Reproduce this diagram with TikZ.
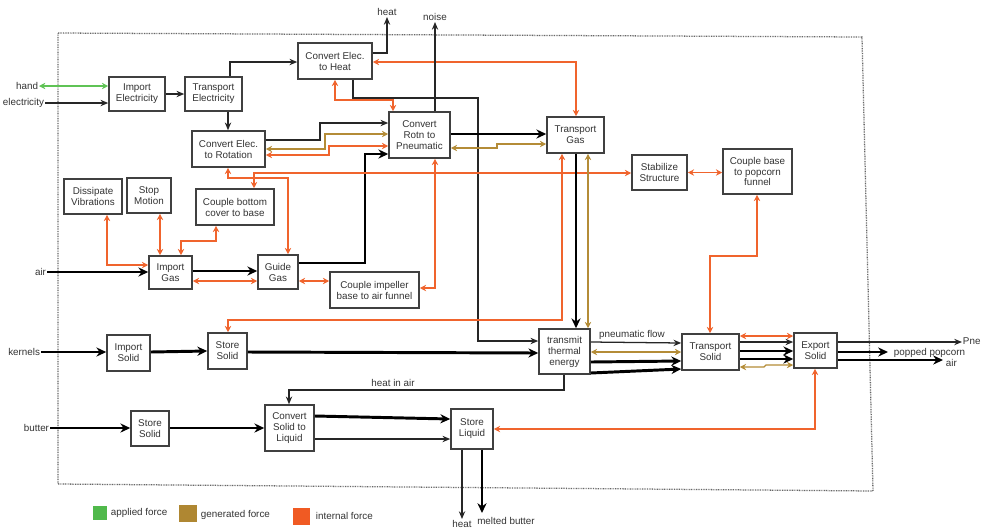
\documentclass[tikz,border=0pt]{standalone}
\usepackage{fontspec}
\setmainfont{Liberation Sans}
\usetikzlibrary{arrows.meta,calc}
\definecolor{cgreen}{RGB}{95,195,85}
\definecolor{cgold}{RGB}{180,140,55}
\definecolor{corange}{RGB}{240,100,45}
\definecolor{lgreen}{RGB}{80,185,75}
\definecolor{lgold}{RGB}{175,135,50}
\definecolor{lorange}{RGB}{240,90,35}
\tikzset{
  fnbox/.style={draw=black!75, line width=1.1pt, fill=white, align=center, inner sep=0pt,
    font=\fontsize{7}{7.8}\selectfont, text=black!80},
  lbl/.style={inner sep=0.5pt, font=\fontsize{7}{7.8}\selectfont, text=black!80},
  fl/.style={draw=black!85, line width=0.9pt, -{Stealth[length=5.5pt,width=4.5pt]}},
  tfl/.style={draw=black, line width=2.1pt, -{Stealth[length=7pt,width=6.5pt]}},
  ora/.style={draw=corange, line width=0.9pt, {Stealth[length=4.5pt,width=4.5pt]}-{Stealth[length=4.5pt,width=4.5pt]}},
  gol/.style={draw=cgold, line width=0.9pt, {Stealth[length=4.5pt,width=4.5pt]}-{Stealth[length=4.5pt,width=4.5pt]}},
  grn/.style={draw=cgreen, line width=0.9pt, {Stealth[length=4.5pt,width=4.5pt]}-{Stealth[length=4.5pt,width=4.5pt]}},
  frame/.style={draw=black!60, line width=0.9pt, dash pattern=on 0.6pt off 0.6pt},
}
\newcommand\fbx[6]{\node[fnbox, minimum width={(#4-#2)*0.025cm}, minimum height={(#5-#3)*0.025cm}] (#1) at ({(#2+#4)/2},{(#3+#5)/2}) {#6};}
\begin{document}
\begin{tikzpicture}[x=0.025cm,y=-0.025cm]
\useasboundingbox (0,0) rectangle (989,529);
\fill[white] (0,0) rectangle (989,529);
\draw[frame] (58,33) -- (862,37) -- (873,491) -- (58,484) -- cycle;

% boxes
\fbx{ie}{109}{77}{165}{111}{Import\\Electricity}
\fbx{te}{185}{77}{242}{111}{Transport\\Electricity}
\fbx{ch}{298}{43}{372}{79}{Convert Elec.\\to Heat}
\fbx{cr}{192}{131}{265}{167}{Convert Elec.\\to Rotation}
\fbx{cp}{389}{112}{450}{158}{Convert\\Rotn to\\Pneumatic}
\fbx{tg}{547}{117}{604}{153}{Transport\\Gas}
\fbx{ss}{632}{155}{687}{190}{Stabilize\\Structure}
\fbx{cf}{723}{149}{792}{194}{Couple base\\to popcorn\\funnel}
\fbx{dv}{64}{179}{122}{214}{Dissipate\\Vibrations}
\fbx{sm}{127}{178}{171}{213}{Stop\\Motion}
\fbx{cb}{196}{189}{274}{225}{Couple bottom\\cover to base}
\fbx{ig}{149}{256}{192}{289}{Import\\Gas}
\fbx{gg}{258}{255}{298}{289}{Guide\\Gas}
\fbx{ci}{330}{272}{419}{308}{Couple impeller\\base to air funnel}
\fbx{tt}{539}{329}{590}{374}{transmit\\thermal\\energy}
\fbx{ts}{682}{334}{739}{370}{Transport\\Solid}
\fbx{es}{794}{333}{837}{368}{Export\\Solid}
\fbx{is}{107}{335}{150}{371}{Import\\Solid}
\fbx{sk}{208}{333}{247}{369}{Store\\Solid}
\fbx{sb}{131}{411}{169}{446}{Store\\Solid}
\fbx{cs}{265}{405}{314}{451}{Convert\\Solid to\\Liquid}
\fbx{sl}{451}{409}{493}{449}{Store\\Liquid}

% labels
\node[lbl,anchor=east] (hand) at (39,86) {hand};
\node[lbl,anchor=east] (elec) at (45,103) {electricity};
\node[lbl,anchor=east] (air) at (47,272) {air};
\node[lbl,anchor=east] (kern) at (41,352) {kernels};
\node[lbl,anchor=east] (butt) at (50,428) {butter};
\node[lbl,anchor=south] (heat) at (387,17) {heat};
\node[lbl,anchor=south] (noise) at (435,22) {noise};
\node[lbl] (pnf) at (632,335) {pneumatic flow};
\node[lbl] (hia) at (393,383) {heat in air};
\node[lbl,anchor=west] (pne) at (962,341) {Pne};
\node[lbl,anchor=west] (pop) at (893,353) {popped popcorn};
\node[lbl,anchor=west] (airo) at (945,363) {air};
\node[lbl,anchor=north] (heatb) at (462,519) {heat};
\node[lbl] (melt) at (506,521) {melted butter};
\coordinate (popend) at (888,352);
\coordinate (airend) at (943,360);
\coordinate (meltend) at (482,513);

% connectors
\draw[grn] (hand.east) -- (ie.west |- hand.east);
\draw[fl] (elec.east) -- (ie.west |- elec.east);
\draw[fl] (ie.east |- 0,94) -- (te.west |- 0,94);
\draw[fl] (te.north -| 230,0) |- (ch.west |- 0,62);
\draw[fl] (te.south -| 228,0) -- (cr.north -| 228,0);
\draw[fl] (ch.east |- 0,53) -| (heat.south);
\draw[ora] (ch.east |- 0,62) -| (tg.north -| 576,0);
\draw[fl] (ch.south -| 353,0) |- (478,98) |- (tt.west |- 0,341);
\draw[ora] (ch.south -| 335,0) |- (393,100) -- (cp.north -| 393,0);
\draw[fl] (cp.north -| 435,0) -- (noise.south);
\draw[fl] (cr.east |- 0,140) -- (320,140) |- (cp.west |- 0,123);
\draw[gol] (cr.east |- 0,149) -- (325,149) |- (cp.west |- 0,134);
\draw[ora] (cr.east |- 0,155) -- (329,155) |- (cp.west |- 0,146);
\draw[tfl] (gg.east |- 0,263) -- (365,263) |- (cp.west |- 0,154);
\draw[tfl] (cp.east |- 0,134) -- (tg.west |- 0,134);
\draw[gol] (cp.east |- 0,148) -- (497,148) -- (497,144) -- (tg.west |- 0,144);
\draw[ora] (cp.south -| 435,0) |- (ci.east |- 0,288);
\draw[ora] (cr.south -| 228,0) |- (288,178) -- (gg.north -| 288,0);
\draw[ora] (cb.north -| 254,0) |- (ss.west |- 0,173);
\draw[tfl] (tg.south -| 576,0) -- (tt.north -| 576,0);
\draw[gol] (tg.south -| 588,0) -- (tt.north -| 588,0);
\draw[ora] (tg.south -| 562,0) |- (228,320) -- (sk.north -| 228,0);
\draw[ora] (ss.east) -- (cf.west |- ss.east);
\draw[ora] (cf.south -| 757,0) |- (710,256) -- (ts.north -| 710,0);
\draw[ora] (dv.south -| 107,0) |- (ig.west |- 0,265);
\draw[ora] (sm.south -| 160,0) -- (ig.north -| 160,0);
\draw[ora] (cb.south -| 216,0) |- (181,241) -- (ig.north -| 181,0);
\draw[tfl] (air.east) -- (ig.west |- air.east);
\draw[tfl] (ig.east |- 0,271) -- (gg.west |- 0,271);
\draw[ora] (ig.east |- 0,281) -- (gg.west |- 0,281);
\draw[ora] (gg.east |- 0,281) -- (ci.west |- 0,281);
\draw[tfl] (kern.east) -- (is.west |- kern.east);
\draw[tfl] (is.east |- 0,352) -- (sk.west |- 0,351);
\draw[tfl] (sk.east |- 0,352) -- (tt.west |- 0,353);
\draw[fl] (tt.east |- 0,342) -- (ts.west |- 0,343);
\draw[gol] (tt.east |- 0,352) -- (ts.west |- 0,352);
\draw[tfl] (tt.east |- 0,362) -- (ts.west |- 0,361);
\draw[tfl] (tt.east |- 0,373) -- (ts.west |- 0,369);
\draw[ora] (ts.east |- 0,336) -- (es.west |- 0,336);
\draw[fl] (ts.east |- 0,342) -- (es.west |- 0,342);
\draw[tfl] (ts.east |- 0,351) -- (es.west |- 0,351);
\draw[tfl] (ts.east |- 0,359) -- (es.west |- 0,359);
\draw[gol] (ts.east |- 0,367) -- (764,367) -- (766,365) -- (es.west |- 0,365);
\draw[fl] (es.east |- 0,342) -- (pne.west |- 0,342);
\draw[tfl] (es.east |- 0,352) -- (popend);
\draw[tfl] (es.east |- 0,360) -- (airend);
\draw[fl] (tt.south -| 564,0) |- (289,390) -- (cs.north -| 289,0);
\draw[tfl] (butt.east) -- (sb.west |- butt.east);
\draw[tfl] (sb.east |- 0,428) -- (cs.west |- 0,428);
\draw[tfl] (cs.east |- 0,416) -- (sl.west |- 0,419);
\draw[fl] (cs.east |- 0,439) -- (sl.west |- 0,439);
\draw[ora] (sl.east |- 0,429) -| (es.south -| 815,0);
\draw[fl] (sl.south -| 462,0) -- (heatb.north);
\draw[tfl] (sl.south -| 482,0) -- (meltend);

% legend
\fill[lgreen] (93,506) rectangle (107,520);
\node[lbl,anchor=west] (lg1) at (110,513) {applied force};
\fill[lgold] (179,505) rectangle (197,522);
\node[lbl,anchor=west] (lg2) at (200,515) {generated force};
\fill[lorange] (293,508) rectangle (310,525);
\node[lbl,anchor=west] (lg3) at (315,516) {internal force};
\end{tikzpicture}
\end{document}
